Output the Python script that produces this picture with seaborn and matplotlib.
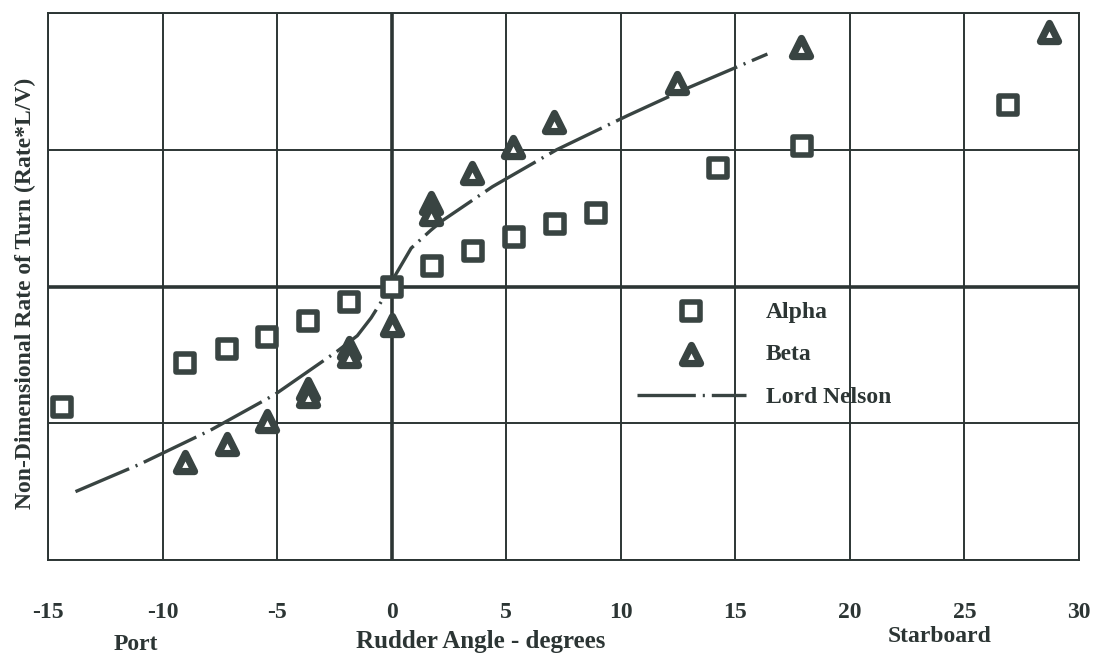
import matplotlib
matplotlib.use("Agg")
import matplotlib.pyplot as plt
import pandas as pd
import seaborn as sns

# Rudder angle (deg) vs non-dimensional rate of turn
alpha_angle = [-14.4, -9.0, -7.2, -5.45, -3.65, -1.85, 0.0, 1.75, 3.55, 5.35, 7.15, 8.9, 14.25, 17.9, 26.9]
alpha_rate = [-0.88, -0.56, -0.46, -0.37, -0.25, -0.11, 0.0, 0.15, 0.26, 0.36, 0.46, 0.54, 0.87, 1.03, 1.33]

beta_angle = [-9.0, -7.2, -5.45, -3.65, -3.65, -1.85, -1.85, 0.0, 1.7, 1.7, 3.5, 5.3, 7.1, 12.45, 17.85, 28.7]
beta_rate = [-1.28, -1.15, -0.98, -0.75, -0.80, -0.45, -0.51, -0.28, 0.61, 0.53, 0.83, 1.02, 1.20, 1.49, 1.75, 1.86]

nelson_angle = [-13.8, -11.0, -7.9, -5.1, -2.35, -1.5, -0.9, -0.3, 0.0, 0.15, 0.85, 1.7, 2.2,
                4.4, 7.2, 10.3, 12.9, 16.4]
nelson_rate = [-1.50, -1.30, -1.05, -0.79, -0.47, -0.36, -0.23, -0.07, 0.0, 0.08, 0.28, 0.41, 0.48,
               0.73, 1.00, 1.25, 1.45, 1.70]

x_ticks = [-15, -10, -5, 0, 5, 10, 15, 20, 25, 30]
x_tick_labels = ["-15", "-10", "-5", "0", "5", "10", "15", "20", "25", "30"]
y_ticks = [-2, -1, 0, 1, 2]

series_labels = ["Alpha", "Beta", "Lord Nelson"]

sns.set_style("white")
plt.rcParams["font.family"] = ["Liberation Serif", "DejaVu Serif"]
plt.rcParams["font.weight"] = "bold"
plt.rcParams["lines.scale_dashes"] = False

ink = "#2c3534"
mark = "#394442"

fig = plt.figure(figsize=(10.95, 6.57), dpi=100)
ax = fig.add_axes([48 / 1095, 97 / 657, 1031 / 1095, 547 / 657])

alpha_df = pd.DataFrame({"angle": alpha_angle, "rate": alpha_rate})
beta_df = pd.DataFrame({"angle": beta_angle, "rate": beta_rate})
nelson_df = pd.DataFrame({"angle": nelson_angle, "rate": nelson_rate})

# grid and the two zero axes
ax.set_xlim(-15, 30)
ax.set_ylim(-2, 2)
ax.set_xticks(x_ticks)
ax.set_xticklabels(x_tick_labels)
ax.set_yticks(y_ticks)
ax.set_yticklabels([])
ax.grid(True, color=ink, linewidth=1.4, zorder=0)
ax.axhline(0, color=ink, linewidth=2.6, zorder=1)
ax.axvline(0, color=ink, linewidth=2.6, zorder=1)
for sp in ax.spines.values():
    sp.set_color(ink)
    sp.set_linewidth(1.4)
ax.tick_params(axis="both", length=0)
ax.tick_params(axis="x", pad=30, labelsize=17, labelcolor=ink)

sns.lineplot(data=nelson_df, x="angle", y="rate", sort=False, estimator=None,
             color=mark, linewidth=2.4, ax=ax, label=series_labels[2], zorder=3)
nelson_line = ax.lines[-1]
nelson_line.set_linestyle((0, (42, 5, 1.5, 5)))

sns.scatterplot(data=alpha_df, x="angle", y="rate", marker="s", s=150,
                facecolor="white", edgecolor=mark, linewidth=4.0, ax=ax,
                label=series_labels[0], zorder=4)
sns.scatterplot(data=beta_df, x="angle", y="rate", marker="^", s=170,
                facecolor="white", edgecolor=mark, linewidth=5.2, ax=ax,
                label=series_labels[1], zorder=4)

handles, labels = ax.get_legend_handles_labels()
order = [labels.index(l) for l in series_labels]
leg = ax.legend([handles[i] for i in order], [labels[i] for i in order],
                loc="upper left", bbox_to_anchor=((637 - 48) / 1031, 1 - (301 - 13) / 547),
                frameon=False, borderpad=0, borderaxespad=0, handlelength=4.6,
                handletextpad=0.85, labelspacing=0.9, scatterpoints=1,
                prop={"size": 17, "weight": "bold"})
for t in leg.get_texts():
    t.set_color(ink)

ax.set_xlabel("Rudder Angle - degrees", fontsize=18, fontweight="bold", color=ink)
ax.xaxis.set_label_coords((481 - 48) / 1031, -0.128)
ax.set_ylabel("Non-Dimensional Rate of Turn (Rate*L/V)", fontsize=17, fontweight="bold", color=ink)
ax.yaxis.set_label_coords(-0.012, (560 - 293) / 547)

ax.text((136 - 48) / 1031, (560 - 645) / 547, "Port", transform=ax.transAxes,
        ha="center", va="center", fontsize=17, fontweight="bold", color=ink)
ax.text((940 - 48) / 1031, (560 - 636) / 547, "Starboard", transform=ax.transAxes,
        ha="center", va="center", fontsize=17, fontweight="bold", color=ink)

fig.savefig("out.png", dpi=100, facecolor="white")
